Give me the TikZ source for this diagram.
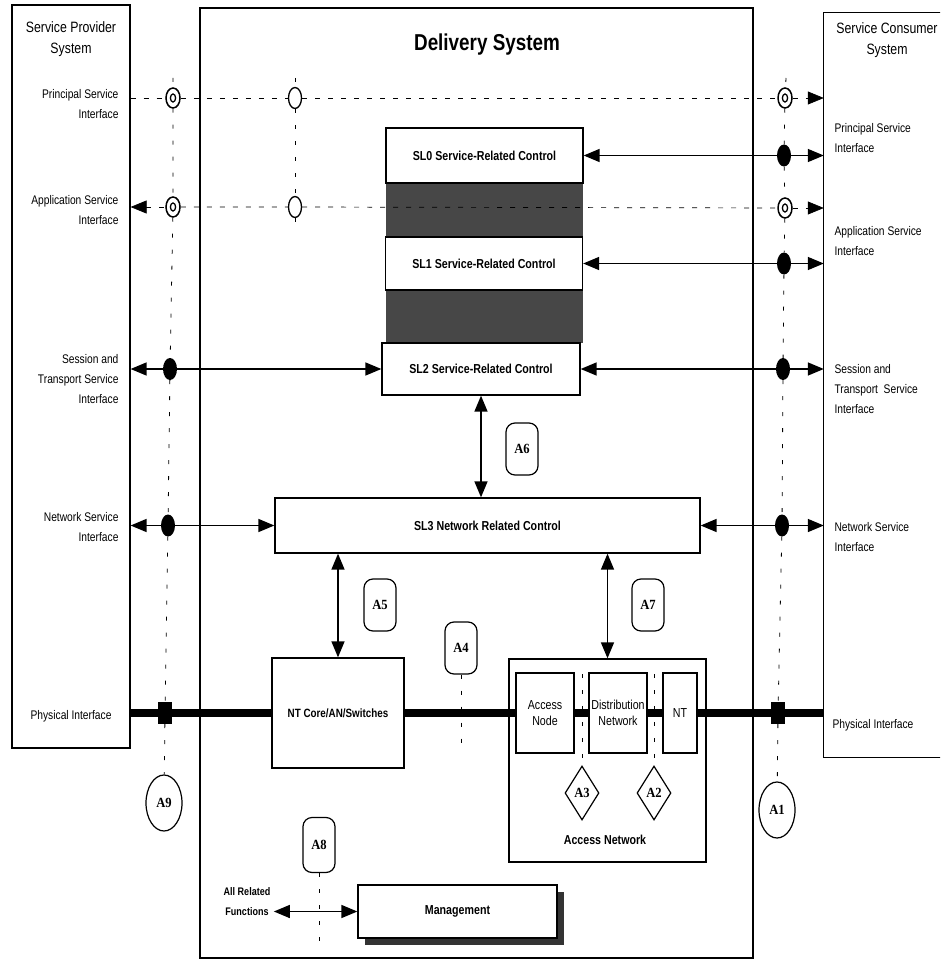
\documentclass[tikz,border=0pt]{standalone}
\usepackage{fontspec}
\setmainfont{Liberation Sans}[FakeStretch=0.82]
\newfontfamily\atagfont{Liberation Serif}[FakeStretch=0.9]
\usetikzlibrary{arrows.meta,shapes.geometric,shadows}
\begin{document}
\begin{tikzpicture}[x=1pt,y=-1pt,
  >={Triangle[length=16pt,width=13pt]},
  frame/.style={draw,line width=1.3pt,inner sep=0pt,minimum width=#1},
  blk/.style={draw,line width=1.3pt,fill=white,inner sep=0pt,align=center,font=\bfseries\fontsize{13}{15}\selectfont},
  plainbox/.style={draw,line width=1.3pt,fill=white,inner sep=0pt,align=center,font=\fontsize{13}{16}\selectfont},
  band/.style={fill=black!72,inner sep=0pt},
  ilabR/.style={anchor=east,align=right,font=\fontsize{12.5}{20}\selectfont},
  ilabL/.style={anchor=west,align=left,font=\fontsize{12.5}{20}\selectfont},
  dbl/.style={draw,ellipse,line width=1.5pt,fill=white,minimum width=14pt,minimum height=20pt,inner sep=0pt,
     path picture={\draw[line width=1.3pt] (path picture bounding box.center) ellipse [x radius=2.6pt,y radius=4pt];}},
  opn/.style={draw,ellipse,line width=1.3pt,fill=white,minimum width=13pt,minimum height=21pt,inner sep=0pt},
  dot/.style={fill,ellipse,minimum width=14pt,minimum height=22pt,inner sep=0pt},
  sqm/.style={fill,rectangle,minimum width=14pt,minimum height=22pt,inner sep=0pt},
  atag/.style={draw,rounded corners=9pt,line width=1.2pt,minimum width=32pt,minimum height=52pt,fill=white,inner sep=0pt,font=\atagfont\bfseries\fontsize{14}{16}\selectfont},
  aell/.style={draw,ellipse,line width=1.2pt,minimum width=36pt,minimum height=56pt,inner sep=0pt,font=\atagfont\bfseries\fontsize{14}{16}\selectfont},
  adia/.style={draw,diamond,line width=1.2pt,minimum width=34pt,minimum height=54pt,inner sep=0pt,fill=white,font=\atagfont\bfseries\fontsize{14}{16}\selectfont},
  conn/.style={line width=1.5pt},
  phys/.style={line width=8pt},
  vdash/.style={line width=0.8pt,dash pattern=on 4pt off 12pt},
  hdash/.style={line width=0.7pt,dash pattern=on 5pt off 8pt}
]
\useasboundingbox (0,0) rectangle (940,968);
\clip (0,0) rectangle (940,968);

% outer systems
\node[frame=118pt,line width=1.2pt,minimum height=743pt] (prov) at (71,376.5) {};
\node[font=\fontsize{15}{21}\selectfont,align=center] (provt) at (71,39) {Service Provider\\System};
\node[frame=553pt,line width=1.8pt,minimum height=950pt] (deliv) at (476.5,483) {};
\node[font=\bfseries\fontsize{23}{26}\selectfont] (delt) at (487,45) {Delivery System};
\node[inner sep=0pt,minimum width=130pt,minimum height=744pt] (cons) at (889,385) {};
\draw[line width=1.2pt] (cons.north east) -- (cons.north west) -- (cons.south west) -- (cons.south east);
\node[font=\fontsize{15}{21}\selectfont,align=center] (const) at (887,40) {Service Consumer\\System};

% interface labels
\node[ilabR] (lpsi) at (122,104) {Principal Service\\Interface};
\node[ilabR] (lasi) at (122,210) {Application Service\\Interface};
\node[ilabR] (lsti) at (122,379) {Session and\\Transport Service\\Interface};
\node[ilabR] (lnsi) at (122,527) {Network Service\\Interface};
\node[ilabR] (lphy) at (115,716) {Physical Interface};
\node[ilabL] (rpsi) at (831,138) {Principal Service\\Interface};
\node[ilabL] (rasi) at (831,241) {Application Service\\Interface};
\node[ilabL] (rsti) at (831,389) {Session and\\Transport\ \ Service\\Interface};
\node[ilabL] (rnsi) at (831,537) {Network Service\\Interface};
\node[ilabL] (rphy) at (829,725) {Physical Interface};

% service layers
\node[band,minimum width=197pt,minimum height=54pt] (band1) at (484.5,210) {};
\node[band,minimum width=197pt,minimum height=53pt] (band2) at (484,316.5) {};
\node[blk,minimum width=197pt,minimum height=55pt] (sl0) at (484.5,155.5) {SL0 Service-Related Control};
\node[blk,minimum width=197pt,minimum height=53pt] (sl1) at (484,263.5) {SL1 Service-Related Control};
\node[blk,minimum width=198pt,minimum height=52pt] (sl2) at (481,369) {SL2 Service-Related Control};
\node[blk,minimum width=425pt,minimum height=55pt] (sl3) at (487.5,525.5) {SL3 Network Related Control};

% network elements
\node[blk,minimum width=132pt,minimum height=110pt,font=\bfseries\fontsize{12}{14}\selectfont] (ntcore) at (338,713) {NT Core/AN/Switches};
\node[draw,line width=1.3pt,inner sep=0pt,minimum width=197pt,minimum height=203pt] (accnet) at (607.5,760.5) {};
\node[font=\bfseries\fontsize{13}{15}\selectfont] (accnett) at (605,840) {Access Network};
\node[plainbox,minimum width=58pt,minimum height=80pt] (accnode) at (545,713) {Access\\Node};
\node[plainbox,minimum width=58pt,minimum height=80pt] (distnet) at (618,713) {Distribution\\Network};
\node[plainbox,minimum width=34pt,minimum height=80pt] (nt) at (680,713) {NT};
\node[blk,minimum width=199pt,minimum height=53pt,drop shadow={shadow xshift=7pt,shadow yshift=-7pt,fill=black!80,opacity=1}] (mgmt) at (457.5,911.5) {Management};
\node[align=center,font=\bfseries\fontsize{11}{20}\selectfont] (allrel) at (247,902) {All Related\\Functions};

% interface symbols
\node[dbl] (dblL1) at (173,98) {};
\node[dbl] (dblL2) at (173,207) {};
\node[opn] (opn1) at (295,98) {};
\node[opn] (opn2) at (295,207) {};
\node[dbl] (dblR1) at (785,98) {};
\node[dbl] (dblR2) at (785,208) {};
\node[dot] (dotR0) at (784,155.5) {};
\node[dot] (dotR1) at (784,263.5) {};
\node[dot] (dotL2) at (170,369) {};
\node[dot] (dotR2) at (783,369) {};
\node[dot] (dotL3) at (168,525.5) {};
\node[dot] (dotR3) at (782,525.5) {};
\node[sqm] (sqL) at (165,713) {};
\node[sqm] (sqR) at (778,713) {};

% reference point tags
\node[aell] (a9) at (164,803) {A9};
\node[aell] (a1) at (777,810) {A1};
\node[atag] (a4) at (461,648) {A4};
\node[atag] (a5) at (380,605) {A5};
\node[atag] (a6) at (522,449) {A6};
\node[atag] (a7) at (648,605) {A7};
\node[atag,minimum height=55pt] (a8) at (319,845) {A8};
\node[adia] (a3) at (582,793) {A3};
\node[adia] (a2) at (654,793) {A2};

\coordinate (topL) at (173,78);
\coordinate (topM) at (295,78);
\coordinate (botM) at (295,226);
\coordinate (topR) at (786,78);
\coordinate (a4bot) at (461,745);
\coordinate (a3top) at (582,674);
\coordinate (a2top) at (654,674);
\coordinate (a8bot) at (319,948);

% vertical reference lines
\draw[vdash] (topL) -- (dblL1) -- (dblL2) -- (dotL2) -- (dotL3) -- (sqL) -- (a9);
\draw[vdash] (topM) -- (opn1) -- (opn2) -- (botM);
\draw[vdash] (topR) -- (dblR1) -- (dotR0) -- (dblR2) -- (dotR1) -- (dotR2) -- (dotR3) -- (sqR) -- (a1);
\draw[vdash] (a4) -- (a4bot);
\draw[vdash] (a3top) -- (a3);
\draw[vdash] (a2top) -- (a2);

% dashed service interfaces
\draw[hdash] (dblL1 -| prov.east) -- (dblL1) -- (opn1) -- (dblR1);
\draw[hdash,->] (dblR1) -- (dblR1 -| cons.west);
\draw[hdash,<-] (dblL2 -| prov.east) -- (dblL2);
\draw[hdash] (dblL2) -- (opn2) -- (dblR2);
\draw[hdash,->] (dblR2) -- (dblR2 -| cons.west);

% solid service interfaces
\draw[conn,<-] (sl0.east) -- (dotR0);
\draw[conn,->] (dotR0) -- (dotR0 -| cons.west);
\draw[conn,<-] (sl1.east) -- (dotR1);
\draw[conn,->] (dotR1) -- (dotR1 -| cons.west);
\draw[conn,<-] (dotL2 -| prov.east) -- (dotL2);
\draw[conn,->] (dotL2) -- (sl2.west);
\draw[conn,<-] (sl2.east) -- (dotR2);
\draw[conn,->] (dotR2) -- (dotR2 -| cons.west);
\draw[conn,<-] (dotL3 -| prov.east) -- (dotL3);
\draw[conn,->] (dotL3) -- (sl3.west);
\draw[conn,<-] (sl3.east) -- (dotR3);
\draw[conn,->] (dotR3) -- (dotR3 -| cons.west);

% vertical control links
\draw[conn,<->] (sl2.south) -- (sl2.south |- sl3.north);
\draw[conn,<->] (ntcore.north |- sl3.south) -- (ntcore.north);
\draw[conn,<->] (accnet.north |- sl3.south) -- (accnet.north);
\draw[conn,<->] (allrel.east |- mgmt.west) -- (mgmt.west);
\draw[vdash] (a8) -- (a8bot);

% physical interface
\draw[phys] (sqL -| prov.east) -- (sqL);
\draw[phys] (sqL) -- (ntcore.west);
\draw[phys] (ntcore.east) -- (accnode.west);
\draw[phys] (accnode.east) -- (distnet.west);
\draw[phys] (distnet.east) -- (nt.west);
\draw[phys] (nt.east) -- (sqR);
\draw[phys] (sqR) -- (sqR -| cons.west);
\end{tikzpicture}
\end{document}
